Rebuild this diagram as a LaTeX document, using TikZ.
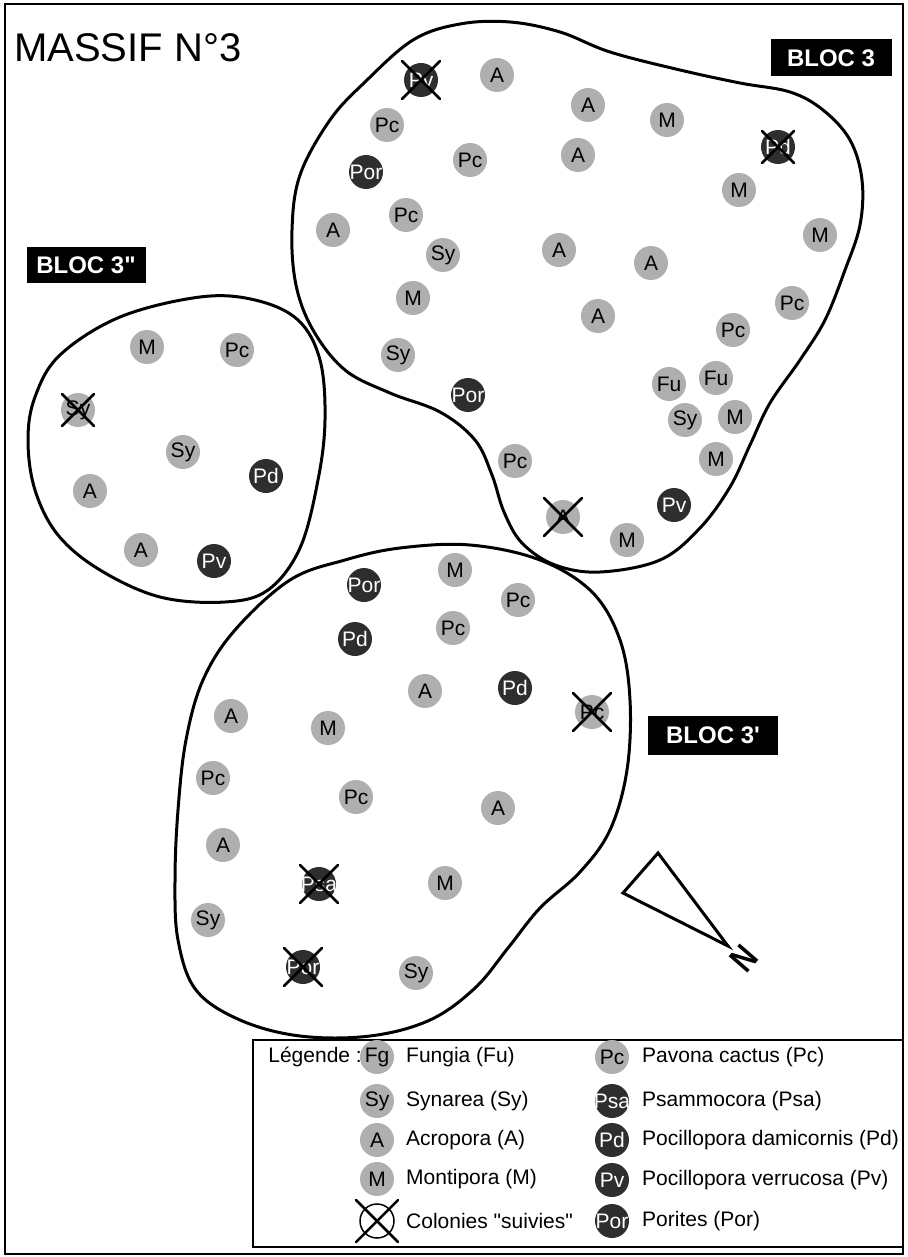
\documentclass[tikz,border=0pt]{standalone}
\usepackage{fontspec}
\setmainfont{Liberation Sans}[Ligatures=TeXOff]
\definecolor{cgray}{HTML}{AFAFAF}
\definecolor{cdark}{HTML}{2E2E2E}
\newcommand\ctext[1]{\makebox[0pt]{#1}}
\newcommand\crossit[2][19]{\draw[xl] ([shift={(-#1,-#1)}]#2.center) -- ([shift={(#1,#1)}]#2.center) ([shift={(-#1,#1)}]#2.center) -- ([shift={(#1,-#1)}]#2.center);}
\begin{document}
\begin{tikzpicture}[x=1pt,y=-1pt,
  gc/.style={circle,fill=cgray,minimum size=34pt,inner sep=0pt,font=\fontsize{21}{21}\selectfont},
  dc/.style={circle,fill=cdark,text=white,minimum size=34pt,inner sep=0pt,font=\fontsize{21}{21}\selectfont},
  blob/.style={line width=3pt},
  xl/.style={line width=2.5pt,line cap=round},
  bloc/.style={fill=black,text=white,font=\bfseries\fontsize{24}{24}\selectfont,inner sep=0pt},
  legtxt/.style={anchor=west,font=\fontsize{21}{21}\selectfont,inner sep=0pt}]
\useasboundingbox (0,0) rectangle (907,1257);
% frame
\draw[line width=2.5pt] (5,4) rectangle (903,1254);
\node[font=\fontsize{40}{40}\selectfont,anchor=west,inner sep=0pt] (title) at (14,48) {MASSIF N°3};

% blobs
\draw[blob] plot[smooth cycle,tension=0.6] coordinates {(413,40) (460,24) (510,22) (560,32) (610,52) (680,70) (740,83) (790,92) (823,110) (850,140) (862,180) (860,225) (845,270) (825,320) (800,360) (770,403) (750,445) (730,487) (700,528) (660,560) (600,572) (555,565) (522,543) (504,512) (492,475) (475,440) (440,412) (390,393) (345,370) (313,330) (296,285) (292,230) (300,175) (330,120) (365,82)};
\draw[blob] plot[smooth cycle,tension=0.6] coordinates {(200,297) (120,317) (60,355) (35,397) (28,440) (35,490) (58,535) (100,570) (160,597) (225,602) (268,590) (300,548) (318,480) (325,420) (320,360) (298,320) (255,300)};
\draw[blob] plot[smooth cycle,tension=0.6] coordinates {(290,580) (345,560) (400,548) (470,545) (540,560) (592,592) (620,640) (630,700) (627,770) (610,830) (580,872) (540,908) (508,948) (475,988) (430,1020) (370,1036) (300,1036) (240,1020) (196,990) (178,940) (175,880) (178,810) (186,740) (203,680) (235,630)};

% labels
\node[bloc,minimum width=121pt,minimum height=37pt] (bloc3) at (831,58) {BLOC 3};
\node[bloc,minimum width=119pt,minimum height=36pt] (bloc3b) at (86,265) {BLOC 3"};
\node[bloc,minimum width=130pt,minimum height=39pt] (bloc3a) at (713,735) {BLOC 3'};

% BLOC 3
\node[dc] (a1) at (421,80) {\ctext{Pv}}; \crossit{a1}
\node[gc] (a2) at (497,75) {\ctext{A}};
\node[gc] (a3) at (588,105) {\ctext{A}};
\node[gc] (a4) at (667,120) {\ctext{M}};
\node[dc] (a5) at (778,147) {\ctext{Pd}}; \crossit[16]{a5}
\node[gc] (a6) at (387,125) {\ctext{Pc}};
\node[dc] (a7) at (366,172) {\ctext{Por}};
\node[gc] (a8) at (470,160) {\ctext{Pc}};
\node[gc] (a9) at (578,155) {\ctext{A}};
\node[gc] (a10) at (739,190) {\ctext{M}};
\node[gc] (a11) at (820,235) {\ctext{M}};
\node[gc] (a12) at (333,230) {\ctext{A}};
\node[gc] (a13) at (406,215) {\ctext{Pc}};
\node[gc] (a14) at (443,255) {\ctext{Sy}};
\node[gc] (a15) at (559,250) {\ctext{A}};
\node[gc] (a16) at (651,263) {\ctext{A}};
\node[gc] (a17) at (413,298) {\ctext{M}};
\node[gc] (a18) at (598,316) {\ctext{A}};
\node[gc] (a19) at (792,303) {\ctext{Pc}};
\node[gc] (a20) at (733,330) {\ctext{Pc}};
\node[gc] (a21) at (398,355) {\ctext{Sy}};
\node[dc] (a22) at (468,395) {\ctext{Por}};
\node[gc] (a23) at (669,384) {\ctext{Fu}};
\node[gc] (a24) at (716,378) {\ctext{Fu}};
\node[gc] (a25) at (685,420) {\ctext{Sy}};
\node[gc] (a26) at (735,417) {\ctext{M}};
\node[gc] (a27) at (716,459) {\ctext{M}};
\node[gc] (a28) at (515,461) {\ctext{Pc}};
\node[gc] (a29) at (563,517) {\ctext{A}}; \crossit{a29}
\node[dc] (a30) at (674,505) {\ctext{Pv}};
\node[gc] (a31) at (627,540) {\ctext{M}};

% BLOC 3''
\node[gc] (b1) at (147,347) {\ctext{M}};
\node[gc] (b2) at (237,350) {\ctext{Pc}};
\node[gc] (b3) at (78,410) {\ctext{Sy}}; \crossit[16]{b3}
\node[gc] (b4) at (183,452) {\ctext{Sy}};
\node[gc] (b5) at (90,491) {\ctext{A}};
\node[dc] (b6) at (266,476) {\ctext{Pd}};
\node[gc] (b7) at (141,550) {\ctext{A}};
\node[dc] (b8) at (214,561) {\ctext{Pv}};

% BLOC 3'
\node[dc] (c1) at (364,585) {\ctext{Por}};
\node[gc] (c2) at (455,570) {\ctext{M}};
\node[gc] (c3) at (518,600) {\ctext{Pc}};
\node[dc] (c4) at (355,639) {\ctext{Pd}};
\node[gc] (c5) at (453,628) {\ctext{Pc}};
\node[gc] (c6) at (425,691) {\ctext{A}};
\node[dc] (c7) at (515,688) {\ctext{Pd}};
\node[gc] (c8) at (592,712) {\ctext{Pc}}; \crossit{c8}
\node[gc] (c9) at (231,716) {\ctext{A}};
\node[gc] (c10) at (328,728) {\ctext{M}};
\node[gc] (c11) at (213,778) {\ctext{Pc}};
\node[gc] (c12) at (356,797) {\ctext{Pc}};
\node[gc] (c13) at (498,808) {\ctext{A}};
\node[gc] (c14) at (223,845) {\ctext{A}};
\node[dc] (c15) at (319,884) {\ctext{Psa}}; \crossit{c15}
\node[gc] (c16) at (445,883) {\ctext{M}};
\node[gc] (c17) at (208,920) {\ctext{Sy}};
\node[dc] (c18) at (303,967) {\ctext{Por}}; \crossit{c18}
\node[gc] (c19) at (416,973) {\ctext{Sy}};

% north arrow
\coordinate (t1) at (658,853);
\coordinate (t2) at (623,893);
\coordinate (t3) at (728,946);
\draw[line width=3pt,line join=miter] (t1) -- (t2) -- (t3) -- cycle;
\node[font=\bfseries\fontsize{36}{36}\selectfont,rotate=49,xscale=0.8,inner sep=0pt] (north) at (744,959) {N};

% legend
\draw[line width=1.5pt] (253,1040) rectangle (903,1247);
\node[legtxt,anchor=east] (leg) at (362,1057) {Légende :};
\node[gc] (l1) at (377,1057) {\ctext{Fg}};
\node[gc] (l2) at (377,1101) {\ctext{Sy}};
\node[gc] (l3) at (377,1140) {\ctext{A}};
\node[gc] (l4) at (377,1179) {\ctext{M}};
\node[circle,draw,line width=1.5pt,minimum size=34pt,inner sep=0pt] (l5) at (377,1221) {};
\crossit[21]{l5}
\node[legtxt] (lt1) at (406,1057) {Fungia (Fu)};
\node[legtxt] (lt2) at (406,1101) {Synarea (Sy)};
\node[legtxt] (lt3) at (406,1140) {Acropora (A)};
\node[legtxt] (lt4) at (406,1179) {Montipora (M)};
\node[legtxt] (lt5) at (406,1221) {Colonies "suivies"};
\node[gc] (r1) at (612,1057) {\ctext{Pc}};
\node[dc] (r2) at (612,1101) {\ctext{Psa}};
\node[dc] (r3) at (612,1140) {\ctext{Pd}};
\node[dc] (r4) at (612,1180) {\ctext{Pv}};
\node[dc] (r5) at (612,1221) {\ctext{Por}};
\node[legtxt] (rt1) at (642,1057) {Pavona cactus (Pc)};
\node[legtxt] (rt2) at (642,1101) {Psammocora (Psa)};
\node[legtxt] (rt3) at (642,1140) {Pocillopora damicornis (Pd)};
\node[legtxt] (rt4) at (642,1180) {Pocillopora verrucosa (Pv)};
\node[legtxt] (rt5) at (642,1221) {Porites (Por)};
\end{tikzpicture}
\end{document}
